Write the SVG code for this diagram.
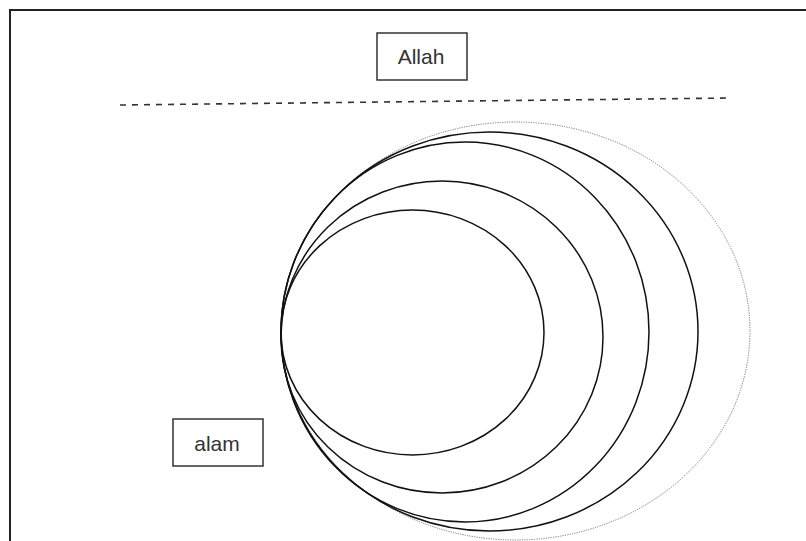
<svg xmlns="http://www.w3.org/2000/svg" width="806" height="541" viewBox="0 0 806 541">
<style>
.frame{fill:none;stroke:#222;stroke-width:2}
.box{fill:#fff;stroke:#333;stroke-width:1.5}
.lbl{font-family:"Liberation Sans",Arial,sans-serif;font-size:21px;fill:#333;text-anchor:middle}
.orb{fill:none;stroke:#111;stroke-width:1.5}
.outer{fill:none;stroke:#777;stroke-width:1;stroke-dasharray:1.2 1.2}
.divider{fill:none;stroke:#333;stroke-width:1.6;stroke-dasharray:6 6}
</style>
<rect x="0" y="0" width="806" height="541" fill="#fff"/>
<rect class="frame" x="10" y="10" width="810" height="560"/>
<g id="connectors">
<line class="divider" x1="120" y1="105" x2="732" y2="98"/>
</g>
<g id="spheres">
<ellipse id="sphere5" class="outer" cx="515.5" cy="331" rx="234.5" ry="209"/>
<ellipse id="sphere4" class="orb" cx="489.5" cy="331.5" rx="208.5" ry="199.5"/>
<ellipse id="sphere3" class="orb" cx="465" cy="332" rx="184" ry="190"/>
<ellipse id="sphere2" class="orb" cx="442" cy="337" rx="161" ry="156"/>
<ellipse id="sphere1" class="orb" cx="412.5" cy="332.5" rx="131.5" ry="122.5"/>
</g>
<g id="allah">
<rect class="box" x="377" y="33" width="90" height="47"/>
<text class="lbl" x="421" y="64">Allah</text>
</g>
<g id="alam">
<rect class="box" x="173" y="419" width="90" height="47"/>
<text class="lbl" x="217" y="451">alam</text>
</g>
</svg>
